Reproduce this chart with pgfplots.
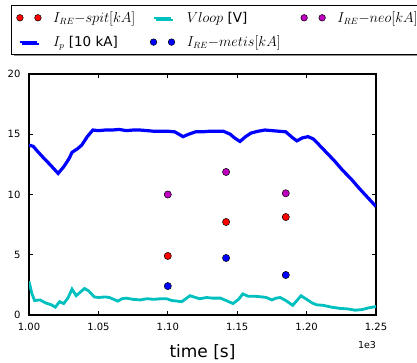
\documentclass[border=0pt]{standalone}
\usepackage{fontspec}
\setmainfont{DejaVu Sans}
\usepackage{pgfplots}
\pgfplotsset{compat=1.18}
\usetikzlibrary{shadows}
\definecolor{mplc}{rgb}{0,0.75,0.75}
\definecolor{mplm}{rgb}{0.75,0,0.75}
\begin{document}
\begin{tikzpicture}
\useasboundingbox (0,0) rectangle (417pt,363pt);
\begin{axis}[
  at={(29pt,48pt)}, anchor=south west,
  scale only axis, width=347pt, height=241pt,
  xmin=1.0, xmax=1.25, ymin=0, ymax=20,
  clip mode=individual,
  xtick={1.00,1.05,1.10,1.15,1.20,1.25},
  xticklabels={1.00,1.05,1.10,1.15,1.20,1.25},
  ytick={0,5,10,15,20}, yticklabels={0,5,10,15,20},
  tick align=inside, major tick length=4pt,
  tick style={black, line width=0.8pt},
  axis line style={line width=1.5pt},
  ticklabel style={font=\fontsize{10}{12}\selectfont},
  xticklabel style={yshift=-5pt},
  yticklabel style={xshift=-5pt},
  xlabel={time [s]},
  xlabel style={font=\fontsize{17}{20}\selectfont, at={(axis description cs:0.5,-0.153)}, anchor=center},
  legend columns=3,
  legend cell align=left,
  legend style={at={(axis description cs:-0.0519,1.2863)}, anchor=north west,
    draw=black, line width=1.3pt, fill=white,
    drop shadow={shadow xshift=2pt, shadow yshift=-2pt, fill=black!45, opacity=1},
    font=\fontsize{13.5}{15}\selectfont, inner xsep=5pt, inner ysep=4pt, row sep=8pt,
    /tikz/every odd column/.append style={column sep=10pt}},
]
% I_RE spit
\addplot[only marks, mark=*, mark size=3.6pt, mark options={fill=red, draw=black, line width=0.5pt},
  legend image code/.code={\draw[only marks, mark=*, mark size=3.3pt, mark options={fill=red, draw=black, line width=0.5pt}] plot coordinates {(0pt,0pt) (18pt,0pt)};}]
  coordinates {(1.100,4.9) (1.142,7.72) (1.185,8.13)};
\addlegendentry{\makebox[95pt][l]{$I_{RE}{-}spit[kA]$}}
% Vloop
\addplot[mplc, line width=2.8pt, forget plot] coordinates {
(1.000,2.8) (1.002,1.8) (1.004,1.2) (1.008,1.25) (1.012,1.0) (1.016,0.85) (1.019,0.65)
(1.022,1.1) (1.025,0.95) (1.028,1.4) (1.031,2.15) (1.034,1.6) (1.037,1.9) (1.040,2.2)
(1.043,2.0) (1.047,1.5) (1.050,1.45) (1.055,1.5) (1.058,1.45) (1.062,1.25) (1.064,1.15)
(1.067,1.35) (1.070,1.4) (1.075,1.3) (1.080,1.25) (1.085,1.35) (1.090,1.3) (1.095,1.35)
(1.099,1.35) (1.103,1.2) (1.107,1.15) (1.110,1.1) (1.113,1.35) (1.116,1.6) (1.120,1.45)
(1.123,1.35) (1.128,1.45) (1.132,1.4) (1.138,1.4) (1.142,1.2) (1.147,0.95) (1.151,1.3)
(1.154,1.75) (1.158,1.55) (1.163,1.55) (1.168,1.5) (1.171,1.45) (1.175,1.25) (1.178,1.4)
(1.181,1.45) (1.185,1.2) (1.190,0.8) (1.193,1.2) (1.196,1.6) (1.200,1.3) (1.204,1.0)
(1.207,0.85) (1.212,0.8) (1.218,0.65) (1.224,0.55) (1.230,0.5) (1.235,0.4) (1.240,0.45)
(1.245,0.6) (1.250,0.7)};
\addlegendimage{mplc, line width=1.6pt}
\addlegendentry{\makebox[112pt][l]{$Vloop$ [V]}}
% I_RE neo
\addplot[only marks, mark=*, mark size=3.6pt, mark options={fill=mplm, draw=black, line width=0.5pt},
  legend image code/.code={\draw[only marks, mark=*, mark size=3.3pt, mark options={fill=mplm, draw=black, line width=0.5pt}] plot coordinates {(0pt,0pt) (18pt,0pt)};}]
  coordinates {(1.100,10.0) (1.142,11.87) (1.185,10.1)};
\addlegendentry{\makebox[90pt][l]{$I_{RE}{-}neo[kA]$}}
% Ip
\addplot[blue, line width=3.2pt, forget plot] coordinates {
(1.000,14.1) (1.003,14.0) (1.006,13.6) (1.010,13.1) (1.015,12.5) (1.021,11.75) (1.025,12.3)
(1.029,13.0) (1.031,13.5) (1.035,13.8) (1.038,14.1) (1.042,14.8) (1.046,15.35) (1.050,15.3)
(1.055,15.35) (1.060,15.35) (1.065,15.4) (1.070,15.3) (1.075,15.35) (1.080,15.35) (1.085,15.3)
(1.090,15.25) (1.095,15.25) (1.100,15.25) (1.105,15.2) (1.108,15.0) (1.111,14.8) (1.115,15.0)
(1.120,15.2) (1.125,15.2) (1.130,15.25) (1.135,15.25) (1.140,15.25) (1.145,15.0) (1.148,14.7)
(1.152,14.4) (1.156,14.8) (1.160,15.1) (1.165,15.25) (1.170,15.35) (1.175,15.3) (1.180,15.25)
(1.185,15.2) (1.190,14.7) (1.193,14.45) (1.197,14.7) (1.201,14.8) (1.205,14.6) (1.210,14.0)
(1.215,13.4) (1.220,12.8) (1.226,12.0) (1.232,11.3) (1.238,10.5) (1.244,9.75) (1.250,9.0)};
\addlegendimage{blue, line width=1.6pt}
\addlegendentry{$I_p$ [10 kA]}
% I_RE metis
\addplot[only marks, mark=*, mark size=3.6pt, mark options={fill=blue, draw=black, line width=0.5pt},
  legend image code/.code={\draw[only marks, mark=*, mark size=3.3pt, mark options={fill=blue, draw=black, line width=0.5pt}] plot coordinates {(0pt,0pt) (18pt,0pt)};}]
  coordinates {(1.100,2.4) (1.142,4.73) (1.185,3.32)};
\addlegendentry{$I_{RE}{-}metis[kA]$}
\node[font=\fontsize{9.5}{11}\selectfont, anchor=center] at (axis description cs:0.974,-0.1245) {1e3};
\end{axis}
\end{tikzpicture}
\end{document}
